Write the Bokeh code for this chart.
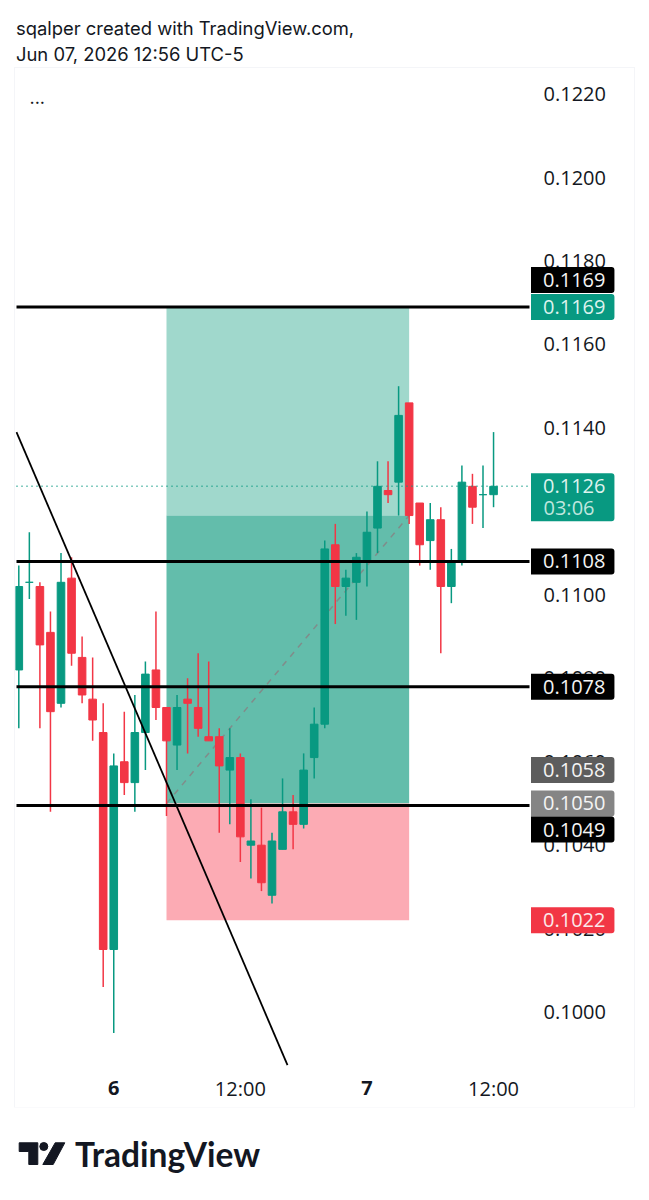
from bokeh.plotting import figure
from bokeh.layouts import column
from bokeh.models import Label, LinearAxis, FixedTicker, Range1d, NumeralTickFormatter
from bokeh.embed import file_html
from bokeh.resources import INLINE
from bokeh.core.properties import value

# ---------- data (1 h candles, 0.0001 tick) ----------
opens = [.1082,.1103,.1102,.1091,.1074,.1104,.1085,.1075,.1067,.1015,.1060,.1055,.1067,.1082,.1073,.1064,
         .1075,.1073,.1066,.1066,.1058,.1061,.1040,.1040,.1028,.1039,.1048,.1045,.1061,.1069,.1112,.1102,
         .1103,.1108,.1116,.1125,.1127,.1146,.1122,.1113,.1118,.1102,.1108,.1126,.1124,.1124]
highs = [.1107,.1115,.1103,.1096,.1110,.1109,.1090,.1085,.1074,.1062,.1072,.1076,.1084,.1096,.1073,.1076,
         .1080,.1086,.1084,.1068,.1068,.1062,.1051,.1049,.1043,.1056,.1052,.1062,.1073,.1113,.1117,.1106,
         .1110,.1120,.1132,.1132,.1150,.1146,.1122,.1122,.1121,.1111,.1131,.1129,.1131,.1139]
lows = [.1068,.1099,.1068,.1048,.1073,.1083,.1074,.1065,.1006,.0995,.1052,.1048,.1058,.1070,.1047,.1058,
        .1062,.1066,.1065,.1043,.1045,.1036,.1032,.1029,.1026,.1039,.1039,.1044,.1056,.1068,.1093,.1095,
        .1094,.1102,.1110,.1122,.1119,.1117,.1107,.1106,.1086,.1098,.1107,.1117,.1116,.1121]
closes = [.1102,.1103,.1088,.1072,.1103,.1086,.1076,.1070,.1015,.1059,.1055,.1067,.1081,.1073,.1065,.1073,
          .1074,.1068,.1065,.1059,.1061,.1042,.1041,.1031,.1041,.1048,.1045,.1058,.1069,.1111,.1102,.1104,
          .1109,.1115,.1126,.1124,.1143,.1119,.1112,.1118,.1102,.1108,.1127,.1121,.1124,.1126]

level_prices = [0.1169, 0.1108, 0.1078, 0.10495]
price_ticks = [0.1000 + 0.0020 * k for k in range(12)]
time_ticks = [21, 45]
time_labels = {21: "12:00", 45: "12:00"}
day_labels = [(9, "6"), (33, "7")]

pos_left, pos_right = 14, 37
pos_target, pos_entry, pos_stop, pos_last = 0.1169, 0.1050, 0.1022, 0.1119
trend_x, trend_y = [-0.22, 25.47], [0.1139, 0.09873]
last_price = 0.1126

GREEN, RED = "#089981", "#F23645"
INK = "#131722"
FONT = value("Inter")
SCALE_FONT = "Open Sans"
SCALE_SIZE = "20px"

# ---------- layout helpers ----------
FR_L, FR_R = 15, 634          # page px of the whole chart box (Bokeh frame)
FR_T, FR_B = 68, 1107
PANE_L, PANE_R = 16, 529      # candle pane
PX_PER_BAR = 10.55
def bar_at(px):
    return (px - 18.3) / PX_PER_BAR

# ---------- header ----------
head = figure(width=641, height=68, x_range=(0, 641), y_range=(68, 0), output_backend="svg",
              toolbar_location=None, min_border=0, outline_line_color=None, x_axis_type=None, y_axis_type=None)
head.grid.visible = False
head.text(x=[15.5, 15.5], y=[27, 53], text=["sqalper created with TradingView.com,", "Jun 07, 2026 12:56 UTC-5"],
          text_font=FONT, text_font_size="18.4px", text_color=INK, text_baseline="middle")

# ---------- main chart ----------
p = figure(width=619, height=1039, output_backend="svg", toolbar_location=None,
           x_range=Range1d(bar_at(FR_L), bar_at(FR_R)),
           y_range=Range1d(0.1 + (1011.6 - FR_B) / 41727, 0.1 + (1011.6 - FR_T) / 41727),
           x_axis_type=None, y_axis_type=None, outline_line_color=None,
           min_border=0, margin=(0, 0, 0, 15), styles={"outline": "1px solid #f4f5f8"})
p.grid.visible = False

# position tool
p.quad(left=[pos_left], right=[pos_right], top=[pos_target], bottom=[pos_last], fill_color="#A0D8CC", line_color=None)
p.quad(left=[pos_left], right=[pos_right], top=[pos_last], bottom=[pos_entry], fill_color="#63BDAB", line_color=None)
p.quad(left=[pos_left], right=[pos_right], top=[pos_entry], bottom=[pos_stop], fill_color="#FCABB4", line_color=None)
p.line([pos_left, pos_right], [pos_entry, pos_last], line_color="#808C8A", line_width=1.5, line_dash="6 6")

# candles
xs = list(range(len(opens)))
colors = [GREEN if c >= o else RED for o, c in zip(opens, closes)]
p.segment(x0=xs, x1=xs, y0=lows, y1=highs, line_color=colors, line_width=1.5)
p.vbar(x=xs, width=0.72, top=[max(o, c) for o, c in zip(opens, closes)],
       bottom=[min(o, c) for o, c in zip(opens, closes)], fill_color=colors, line_color=colors, line_width=1)

# drawings
p.line([bar_at(PANE_L), bar_at(PANE_R)], [last_price, last_price], line_color=GREEN, line_width=1.5, line_dash="1 4")
for lv in level_prices:
    p.line([bar_at(PANE_L), bar_at(PANE_R)], [lv, lv], line_color="#000000", line_width=3)
p.line(trend_x, trend_y, line_color="#000000", line_width=1.8)

# axes: the scales sit in the chart box, so their labels are pulled back into the frame
ax_r = LinearAxis(ticker=FixedTicker(ticks=price_ticks), formatter=NumeralTickFormatter(format="0.0000"),
                  axis_line_color=None, major_tick_line_color=None, minor_tick_line_color=None,
                  major_tick_in=0, major_tick_out=0,
                  major_label_standoff=-91, major_label_text_font=SCALE_FONT, major_label_text_font_size=SCALE_SIZE,
                  major_label_text_color=INK)
p.add_layout(ax_r, "right")
ax_b = LinearAxis(ticker=FixedTicker(ticks=time_ticks), major_label_overrides=time_labels,
                  axis_line_color=None, major_tick_line_color=None, minor_tick_line_color=None,
                  major_tick_in=0, major_tick_out=0,
                  major_label_standoff=-33, major_label_text_font=SCALE_FONT, major_label_text_font_size=SCALE_SIZE,
                  major_label_text_color=INK)
p.add_layout(ax_b, "below")

for xi, t in day_labels:
    p.add_layout(Label(x=xi, y=20, x_units="data", y_units="screen", text=t, text_font=SCALE_FONT,
                       text_font_size=SCALE_SIZE, text_font_style="bold", text_color=INK,
                       text_align="center", text_baseline="middle"))

p.add_layout(Label(x=29 - 15, y=1039 - (96 - 68), x_units="screen", y_units="screen", text="...", text_font="Inter",
                   text_font_size="18px", text_color=INK, text_baseline="middle"))

# price tags: (price, text, background, text colour, px shift, extra bottom padding)
tags = [
    (0.1058, "0.1058", "#5D5D5D", "#F4F4F4", 0, 0),
    (0.1050, "0.1050", "#858585", "#F4F4F4", 0, 0),
    (0.10495, "0.1049", "#000000", "#F4F4F4", -24, 0),
    (0.1022, "0.1022", RED, "#FBE9EB", 0, 0),
    (0.1078, "0.1078", "#000000", "#F4F4F4", 0, 0),
    (0.1108, "0.1108", "#000000", "#F4F4F4", 0, 0),
    (0.1126, "0.1126", GREEN, "#DDF3EE", -11, 22),
    (0.1169, "0.1169", GREEN, "#DDF3EE", 0, 0),
    (0.1169, "0.1169", "#000000", "#F4F4F4", 27, 0),
]
TAG_BOX_X = bar_at(530.5)
TAG_X = bar_at(543)
for price, txt, bg, fg, shift, extra in tags:
    p.add_layout(Label(x=TAG_BOX_X, y=price, y_offset=shift, text=txt, text_font=SCALE_FONT, text_font_size=SCALE_SIZE,
                       text_color=fg, text_align="left", text_baseline="middle",
                       background_fill_color=bg, padding=dict(left=12, right=9, top=6, bottom=6 + extra),
                       border_radius=(0, 3, 3, 0)))
p.add_layout(Label(x=TAG_X, y=last_price, y_offset=-21.5, text="03:06", text_font=SCALE_FONT, text_font_size=SCALE_SIZE,
                   text_color="#BFE6DE", text_align="left", text_baseline="middle"))

# ---------- footer ----------
foot = figure(width=641, height=85, x_range=(0, 641), y_range=(1192, 1107), output_backend="svg",
              toolbar_location=None, min_border=0, outline_line_color=None, x_axis_type=None, y_axis_type=None)
foot.grid.visible = False
foot.patch([18.7, 37.3, 37.3, 28.3, 28.3, 18.7], [1142.3, 1142.3, 1164, 1164, 1151, 1151], color="#131722")
foot.patch([54.7, 64.3, 52.7, 42.3], [1142.3, 1142.3, 1164, 1164], color="#131722")
foot.circle(x=[43.3], y=[1146], radius=4, color="#131722")
foot.text(x=[74.5], y=[1153], text=["TradingView"], text_font=value("Lato"), text_font_size="33.5px",
          text_font_style="bold", text_color="#131722", text_baseline="middle", text_align="left")

page = column(head, p, foot, spacing=0)
open("out.html", "w").write(file_html(page, INLINE))
